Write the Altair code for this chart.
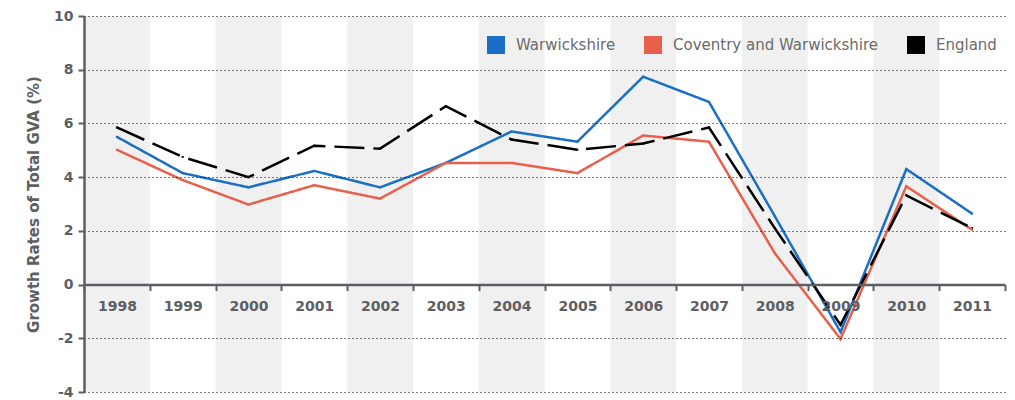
import altair as alt
import pandas as pd

years = [str(y) for y in range(1998, 2012)]
warwickshire = [5.5, 4.15, 3.62, 4.23, 3.62, 4.53, 5.7, 5.32, 7.74, 6.8, 2.55, -1.77, 4.3, 2.64]
coventry = [5.02, 3.89, 2.98, 3.7, 3.2, 4.53, 4.53, 4.15, 5.55, 5.32, 1.17, -2.03, 3.66, 2.04]
england = [5.85, 4.75, 4.0, 5.17, 5.06, 6.64, 5.4, 5.02, 5.25, 5.85, 2.1, -1.5, 3.32, 2.1]
series = ["Warwickshire", "Coventry and Warwickshire", "England"]
colors = ["#1a6fc4", "#e8604c", "#000000"]
shaded_years = years[::2]
y_ticks = [-4, -2, 0, 2, 4, 6, 8, 10]
y_min, y_max = -4, 10

W, H = 921, 376
FONT = "DejaVu Sans"
GREY = "#5d5f63"

rows = []
for name, vals in zip(series, [warwickshire, coventry, england]):
    for yr, v in zip(years, vals):
        rows.append({"year": yr, "value": v, "series": name, "order": series.index(name)})
df = pd.DataFrame(rows)
bands = pd.DataFrame({"year": shaded_years})

x_scale = alt.Scale(domain=years, paddingInner=0, paddingOuter=0)
y_scale = alt.Scale(domain=[y_min, y_max], nice=False, zero=False)
x_offset = -H * (0 - y_min) / (y_max - y_min)
color_scale = alt.Scale(domain=series, range=colors)

band_layer = alt.Chart(bands).mark_rect(color="#f0f0f0").encode(
    x=alt.X("year:N", scale=x_scale, title=None,
            axis=alt.Axis(orient="bottom", offset=x_offset, labelAngle=0, tickBand="extent",
                          labelFont=FONT, labelFontSize=14, labelFontWeight="bold",
                          labelColor=GREY, labelPadding=9, domainColor=GREY, domainWidth=2.5,
                          tickColor=GREY, tickWidth=2, tickSize=6, zindex=2, grid=False)),
)

y_enc = alt.Y("value:Q", scale=y_scale, title="Growth Rates of Total GVA (%)",
              axis=alt.Axis(values=y_ticks, grid=True, gridColor="#000000", gridDash=[1, 3],
                            gridWidth=1.2, labelFont=FONT, labelFontSize=14, labelFontWeight="bold",
                            labelColor=GREY, labelPadding=5, domainColor=GREY, domainWidth=2.5,
                            labelExpr="toString(datum.value)",
                            tickColor=GREY, tickWidth=2, tickSize=6, titleFont=FONT,
                            titleFontSize=15, titleFontWeight="bold", titleColor=GREY,
                            titlePadding=12, zindex=1))

line_layer = alt.Chart(df).mark_line(strokeWidth=2.5).encode(
    x=alt.X("year:N", scale=x_scale),
    y=y_enc,
    color=alt.Color("series:N", scale=color_scale, legend=None),
    strokeDash=alt.StrokeDash("series:N", scale=alt.Scale(domain=series, range=[[1, 0], [1, 0], [30, 9]]),
                              legend=None),
    order=alt.Order("order:Q", sort="descending"),
)

legend_layer = alt.Chart(df).mark_square(size=4, filled=True, opacity=1).encode(
    x=alt.X("year:N", scale=x_scale),
    y=alt.Y("value:Q", scale=y_scale),
    fill=alt.Fill("series:N", scale=color_scale, sort=series, title=None,
                  legend=alt.Legend(orient="none", legendX=403, legendY=20, direction="horizontal",
                                    symbolType="square", symbolSize=324, labelFont=FONT,
                                    labelFontSize=15, labelColor="#6b6b6b", columnPadding=28,
                                    labelOffset=11, labelLimit=400, symbolStrokeWidth=0,
                                    symbolOpacity=1)),
)

chart = alt.layer(band_layer, legend_layer, line_layer).properties(
    width=W, height=H,
    autosize=alt.AutoSizeParams(type="none"),
    padding={"left": 76, "top": 8, "right": 2, "bottom": 8},
).configure_view(stroke=None)

chart.save("out.html", embed_options={"renderer": "svg", "actions": False})
